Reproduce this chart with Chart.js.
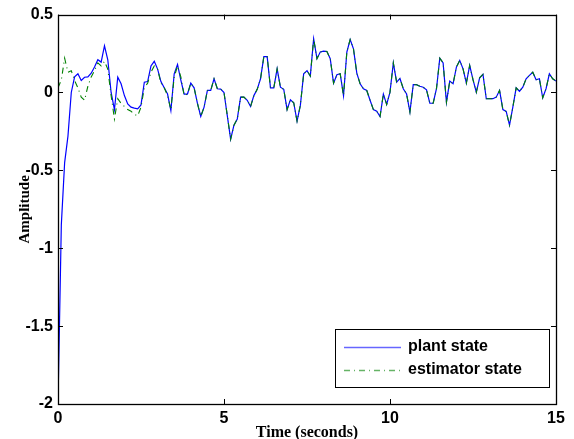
<!DOCTYPE html>
<html>
<head>
<meta charset="utf-8">
<script src="https://cdn.jsdelivr.net/npm/chart.js@4.4.1/dist/chart.umd.min.js"></script>
<style>
  html, body { margin: 0; padding: 0; background: #ffffff; }
  #wrap { width: 574px; height: 439px; }
</style>
</head>
<body>
<div id="wrap"><canvas id="c" width="574" height="439"></canvas></div>
<script>
// ---- data ----
const sampleTime = 0.1; // seconds between samples
const seriesNames = ['plant state', 'estimator state'];
const xTicks = [0, 5, 10, 15];
const yTicks = [0.5, 0, -0.5, -1, -1.5, -2];

const plantState = [
  -2, -0.85, -0.45, -0.28, 0.0, 0.1, 0.12, 0.077, 0.098, 0.10,
  0.124, 0.163, 0.21, 0.195, 0.30, 0.21, 0.0, -0.11, 0.098, 0.056,
  -0.02, -0.073, -0.094, -0.10, -0.105, -0.08, 0.066, 0.07, 0.17, 0.20,
  0.15, 0.07, 0.03, -0.01, -0.116, 0.12, 0.18, 0.08, -0.01, -0.01,
  0.06, 0.03, -0.07, -0.154, -0.094, 0.013, 0.013, 0.088, 0.024, 0.022,
  0.0, -0.15, -0.30, -0.21, -0.17, -0.03, -0.03, -0.05, -0.09, -0.02,
  0.02, 0.088, 0.23, 0.23, 0.03, 0.03, 0.152, 0.034, 0.02, -0.11,
  -0.047, -0.066, -0.184, -0.083, 0.12, 0.14, 0.105, 0.345, 0.217, 0.26,
  0.265, 0.263, 0.217, 0.06, 0.114, 0.12, -0.02, 0.26, 0.34, 0.28,
  0.124, 0.056, 0.024, 0.013, -0.05, -0.11, -0.12, -0.154, -0.01, -0.077,
  0.002, 0.19, 0.066, 0.09, 0.024, -0.01, -0.126, 0.05, 0.05, 0.04,
  0.034, 0.017, -0.069, -0.069, 0.024, 0.22, 0.19, -0.062, 0.073, 0.056,
  0.163, 0.206, 0.152, 0.06, 0.174, 0.082, 0.002, 0.094, 0.116, -0.04,
  -0.04, -0.04, -0.03, 0.013, -0.11, -0.122, -0.21, -0.094, 0.03, 0.008,
  0.034, 0.088, 0.11, 0.13, 0.082, 0.088, -0.034, 0.024, 0.12, 0.088,
  0.073
];

const estimatorState = [
  0.03, 0.08, 0.22, 0.13, 0.14, 0.077, 0.03, -0.03, -0.05, 0.04,
  0.10, 0.14, 0.19, 0.17, 0.20, 0.15, -0.02, -0.17, -0.04, -0.07,
  -0.09, -0.11, -0.12, -0.14, -0.15, -0.094, 0.03, 0.06, 0.13, 0.17,
  0.15, 0.06, 0.03, -0.02, -0.11, 0.10, 0.17, 0.10, -0.02, -0.01,
  0.06, 0.03, -0.07, -0.154, -0.094, 0.013, 0.013, 0.088, 0.024, 0.022,
  0.0, -0.15, -0.30, -0.21, -0.17, -0.03, -0.03, -0.05, -0.09, -0.02,
  0.02, 0.088, 0.23, 0.23, 0.03, 0.03, 0.152, 0.034, 0.02, -0.11,
  -0.047, -0.066, -0.184, -0.083, 0.12, 0.14, 0.105, 0.345, 0.217, 0.26,
  0.265, 0.263, 0.217, 0.06, 0.114, 0.12, -0.02, 0.26, 0.34, 0.28,
  0.124, 0.056, 0.024, 0.013, -0.05, -0.11, -0.12, -0.154, -0.01, -0.077,
  0.002, 0.19, 0.066, 0.09, 0.024, -0.01, -0.126, 0.05, 0.05, 0.04,
  0.034, 0.017, -0.069, -0.069, 0.024, 0.22, 0.19, -0.062, 0.073, 0.056,
  0.163, 0.206, 0.152, 0.06, 0.174, 0.082, 0.002, 0.094, 0.116, -0.04,
  -0.04, -0.04, -0.03, 0.013, -0.11, -0.122, -0.21, -0.094, 0.03, 0.008,
  0.034, 0.088, 0.11, 0.13, 0.082, 0.088, -0.034, 0.024, 0.12, 0.088,
  0.073
];

// ---- styles ----
const plantColor = '#0000ff';
const estColor = '#008000';
const estDash = [6, 4, 1, 4];
const sansBold = 'bold 16px "Liberation Sans", Arial, sans-serif';
const serifFamily = '"Liberation Serif", "Times New Roman", serif';

const toPoints = arr => arr.map((v, i) => ({ x: +(i * sampleTime).toFixed(2), y: v }));

// frame with inward ticks (MATLAB style)
const framePlugin = {
  id: 'frame',
  afterDatasetsDraw(chart) {
    const { ctx, chartArea: a, scales } = chart;
    ctx.save();
    ctx.strokeStyle = '#000';
    ctx.lineWidth = 1;
    ctx.beginPath();
    const tl = 5;
    xTicks.forEach(v => {
      const x = Math.round(scales.x.getPixelForValue(v)) + 0.5;
      ctx.moveTo(x, a.bottom); ctx.lineTo(x, a.bottom - tl);
      ctx.moveTo(x, a.top); ctx.lineTo(x, a.top + tl);
    });
    yTicks.forEach(v => {
      const y = Math.round(scales.y.getPixelForValue(v)) + 0.5;
      ctx.moveTo(a.left, y); ctx.lineTo(a.left + tl, y);
      ctx.moveTo(a.right, y); ctx.lineTo(a.right - tl, y);
    });
    ctx.stroke();
    ctx.lineWidth = 1.3;
    ctx.strokeRect(Math.round(a.left) + 0.5, Math.round(a.top) + 0.5,
                   Math.round(a.right - a.left), Math.round(a.bottom - a.top));
    ctx.restore();
  }
};

// legend box inside the axes, lower right
const legendPlugin = {
  id: 'boxLegend',
  afterDraw(chart) {
    const { ctx, chartArea: a } = chart;
    const w = 214, h = 58;
    const right = a.right - 7, bottom = a.bottom - 17;
    const left = right - w, top = bottom - h;
    ctx.save();
    ctx.fillStyle = '#fff';
    ctx.fillRect(left, top, w, h);
    ctx.strokeStyle = '#000';
    ctx.lineWidth = 1;
    ctx.strokeRect(Math.round(left) + 0.5, Math.round(top) + 0.5, w, h);
    const rows = [top + 18, top + 41];
    const styles = [
      { color: plantColor, dash: [] },
      { color: estColor, dash: estDash }
    ];
    rows.forEach((y, i) => {
      ctx.beginPath();
      ctx.strokeStyle = styles[i].color;
      ctx.globalAlpha = 0.6;
      ctx.lineWidth = 1.3;
      ctx.setLineDash(styles[i].dash);
      ctx.moveTo(left + 9, y + 0.5);
      ctx.lineTo(left + 66, y + 0.5);
      ctx.stroke();
      ctx.setLineDash([]);
      ctx.globalAlpha = 1;
      ctx.fillStyle = '#000';
      ctx.font = sansBold;
      ctx.textBaseline = 'middle';
      ctx.textAlign = 'left';
      ctx.fillText(seriesNames[i], left + 73, y);
    });
    ctx.restore();
  }
};

new Chart(document.getElementById('c'), {
  type: 'line',
  data: {
    datasets: [
      {
        label: seriesNames[0],
        data: toPoints(plantState),
        borderColor: plantColor,
        borderWidth: 1.2,
        pointRadius: 0,
        tension: 0,
        fill: false,
        order: 2
      },
      {
        label: seriesNames[1],
        data: toPoints(estimatorState),
        borderColor: estColor,
        borderWidth: 1.1,
        borderDash: estDash,
        pointRadius: 0,
        tension: 0,
        fill: false,
        order: 1
      }
    ]
  },
  options: {
    responsive: false,
    animation: false,
    devicePixelRatio: 1,
    layout: { padding: { top: 14, right: 18, left: 16, bottom: -3 } },
    plugins: {
      legend: { display: false },
      tooltip: { enabled: false }
    },
    scales: {
      x: {
        type: 'linear',
        min: 0,
        max: 15,
        afterBuildTicks: s => { s.ticks = xTicks.map(v => ({ value: v })); },
        afterFit: s => { s.height = 38; },
        grid: { display: false, drawTicks: false },
        border: { display: false },
        ticks: {
          font: { family: '"Liberation Sans", Arial, sans-serif', size: 16, weight: 'bold' },
          color: '#000',
          padding: 5,
          maxRotation: 0,
          autoSkip: false
        },
        title: {
          display: true,
          text: 'Time (seconds)',
          font: { family: serifFamily, size: 16, weight: 'bold' },
          color: '#000',
          padding: 0
        }
      },
      y: {
        type: 'linear',
        min: -2,
        max: 0.5,
        afterBuildTicks: s => { s.ticks = yTicks.map(v => ({ value: v })); },
        afterFit: s => { s.width = 42; },
        grid: { display: false, drawTicks: false },
        border: { display: false },
        ticks: {
          font: { family: '"Liberation Sans", Arial, sans-serif', size: 16, weight: 'bold' },
          color: '#000',
          padding: 5,
          autoSkip: false,
          callback: v => String(v)
        },
        title: {
          display: true,
          text: 'Amplitude',
          font: { family: serifFamily, size: 15, weight: 'bold' },
          color: '#000',
          padding: 0
        }
      }
    }
  },
  plugins: [framePlugin, legendPlugin]
});
</script>
</body>
</html>
